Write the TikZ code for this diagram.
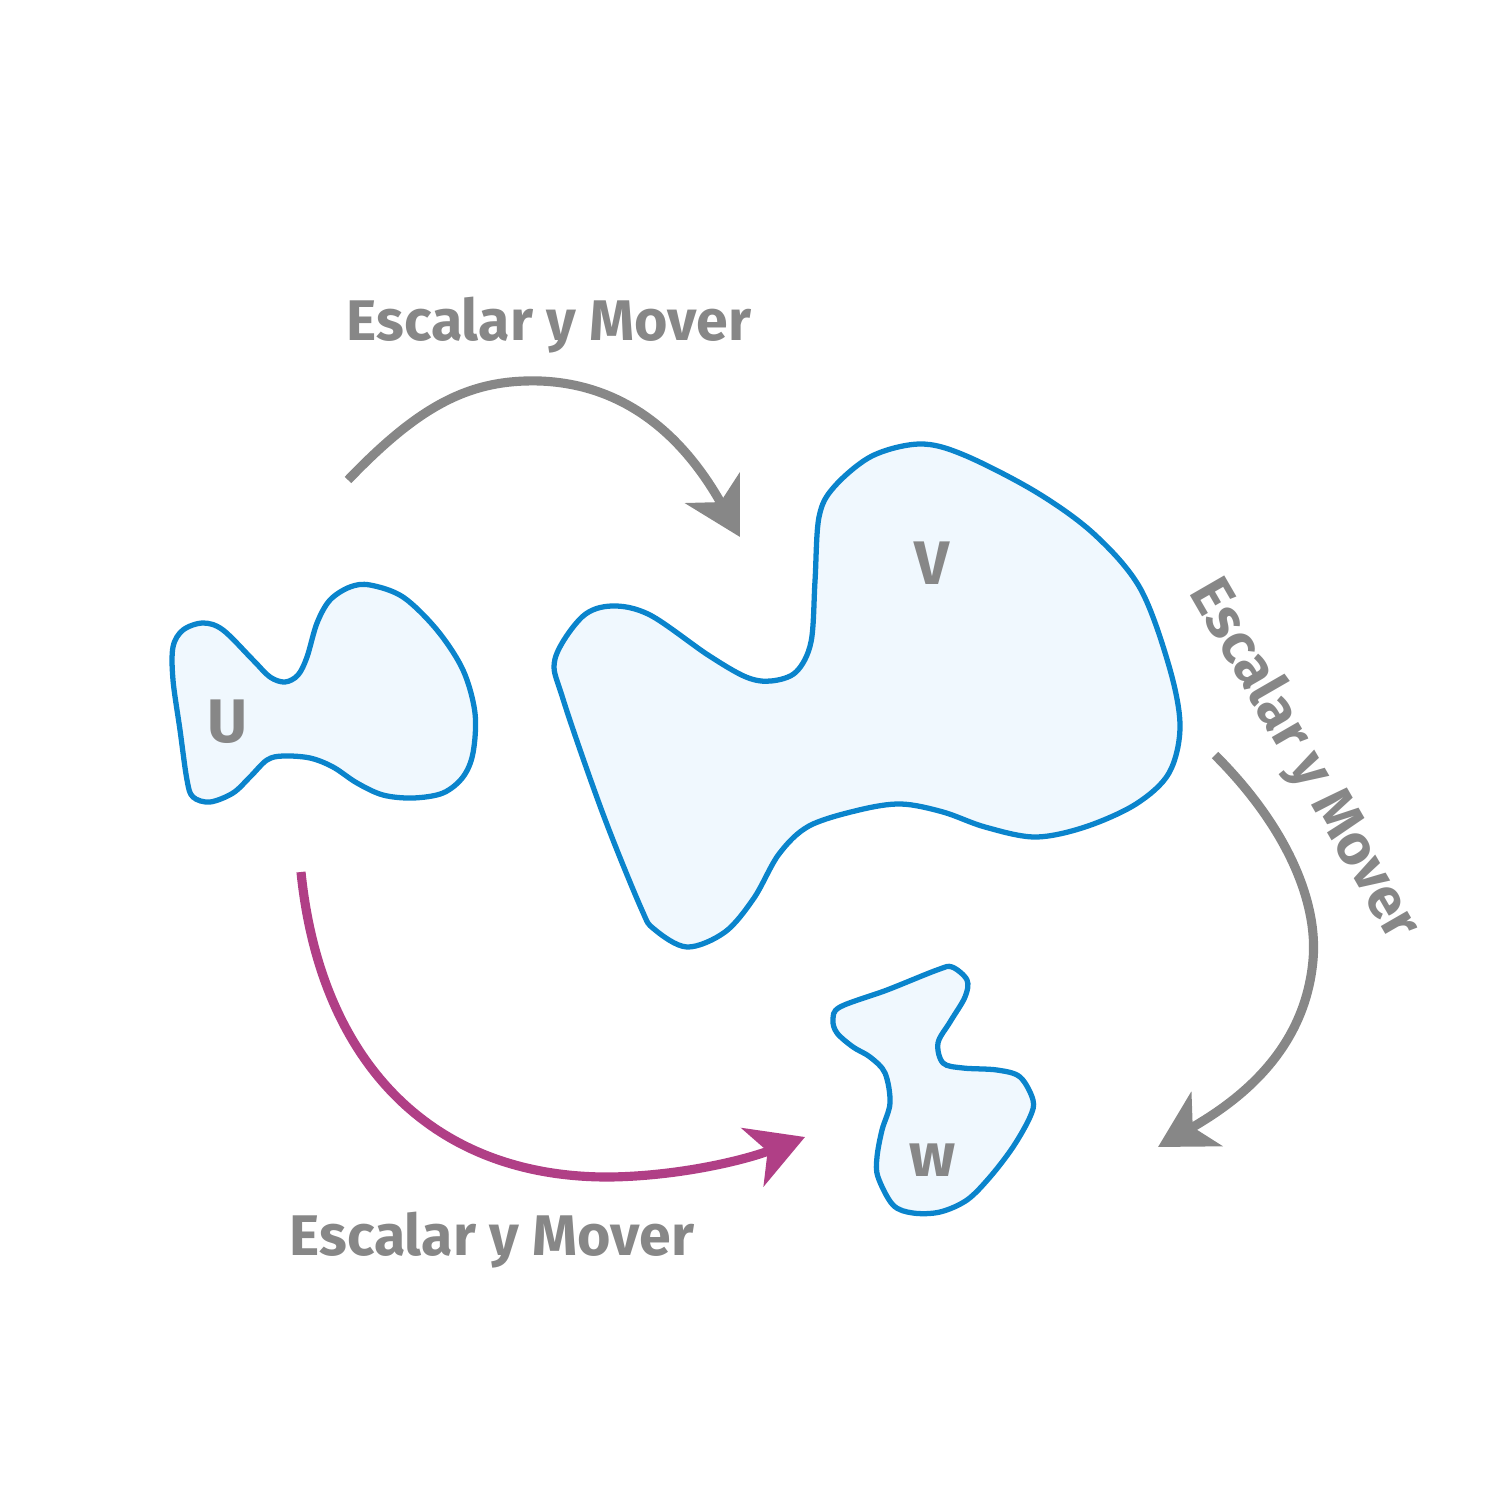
\documentclass[tikz,border=0pt]{standalone}
\usepackage{fontspec}
\newfontfamily\lblfont{Fira Sans}
\usetikzlibrary{arrows.meta}
\definecolor{blobline}{HTML}{0A84CC}
\definecolor{blobfill}{HTML}{F0F8FE}
\definecolor{txtgray}{HTML}{878787}
\definecolor{mapmag}{HTML}{B03F86}
\tikzset{
  blob/.style={draw=blobline, fill=blobfill, line width=1.5pt},
  maparrow/.style={line width=2.6pt, -{Stealth[length=5.6mm, width=6.2mm, inset=1.6mm]}},
  setname/.style={text=txtgray, font=\lblfont\bfseries\fontsize{17.5}{20}\selectfont},
  mapname/.style={text=txtgray, anchor=base, font=\lblfont\bfseries\fontsize{16.3}{19}\selectfont}
}
\begin{document}
\begin{tikzpicture}[x=0.1mm, y=-0.1mm]
    \useasboundingbox (0,0) rectangle (1500,1500);
    % the three sets
    \draw [blob] plot [smooth cycle, tension=0.55] coordinates {
        (173,647) (183,630) (203,623) (223,630) (253,660) (270,677) (285,682)
        (298,675) (307,657) (317,623) (330,600) (350,587) (370,585) (403,597)
        (437,630) (463,670) (475,713) (473,753) (463,777) (443,793) (413,798)
        (383,795) (357,783) (333,767) (310,758) (283,756) (267,760) (250,777)
        (233,793) (210,802) (193,797) (187,780) (180,730) (173,680)};
    \draw [blob] plot [smooth cycle, tension=0.55] coordinates {
        (555,659) (582,617) (612,606) (650,615) (708,655) (746,677) (771,681)
        (796,672) (811,642) (815,581) (819,517) (834,487) (872,456) (920,444)
        (964,455) (1036,492) (1094,534) (1140,588) (1169,666) (1180,726)
        (1169,773) (1136,804) (1085,827) (1035,837) (985,827) (943,812)
        (901,804) (859,810) (809,826) (779,854) (754,898) (725,932) (687,947)
        (654,929) (641,908) (603,814) (563,699)};
    \draw [blob] plot [smooth cycle, tension=0.55] coordinates {
        (833,1020) (840,1007) (887,990) (937,970) (952,967) (967,980) (965,997)
        (950,1022) (938,1043) (943,1063) (963,1068) (997,1070) (1020,1077)
        (1033,1100) (1030,1117) (1013,1147) (990,1177) (967,1200) (940,1212)
        (913,1213) (893,1205) (878,1177) (877,1157) (882,1130) (890,1103)
        (885,1073) (870,1057) (853,1047) (837,1033)};
    \node (setU) [setname] at (228,722) {U};
    \node (setV) [setname] at (932,563) {V};
    \node (setW) [setname] at (933,1160) {w};
    % the maps
    \coordinate (uvfrom) at (348,480);
    \coordinate (uvto) at (740,537);
    \coordinate (vwfrom) at (1215,755);
    \coordinate (vwto) at (1158,1147);
    \coordinate (uwfrom) at (301,872);
    \coordinate (uwto) at (805,1137);
    \draw [maparrow, txtgray] (uvfrom) .. controls (420,405) and (470,379) .. (540,381)
        .. controls (620,384) and (680,430) .. (uvto);
    \draw [maparrow, txtgray] (vwfrom) .. controls (1290,830) and (1318,905) .. (1313,960)
        .. controls (1305,1050) and (1240,1100) .. (vwto);
    \draw [maparrow, mapmag] (uwfrom) .. controls (320,1060) and (430,1178) .. (610,1177)
        .. controls (680,1176) and (745,1160) .. (uwto);
    \node (uvname) [mapname] at (549,340) {Escalar y Mover};
    \node (vwname) [mapname, rotate=-60] at (1290,768) {Escalar y Mover};
    \node (uwname) [mapname] at (492,1255) {Escalar y Mover};
\end{tikzpicture}
\end{document}
